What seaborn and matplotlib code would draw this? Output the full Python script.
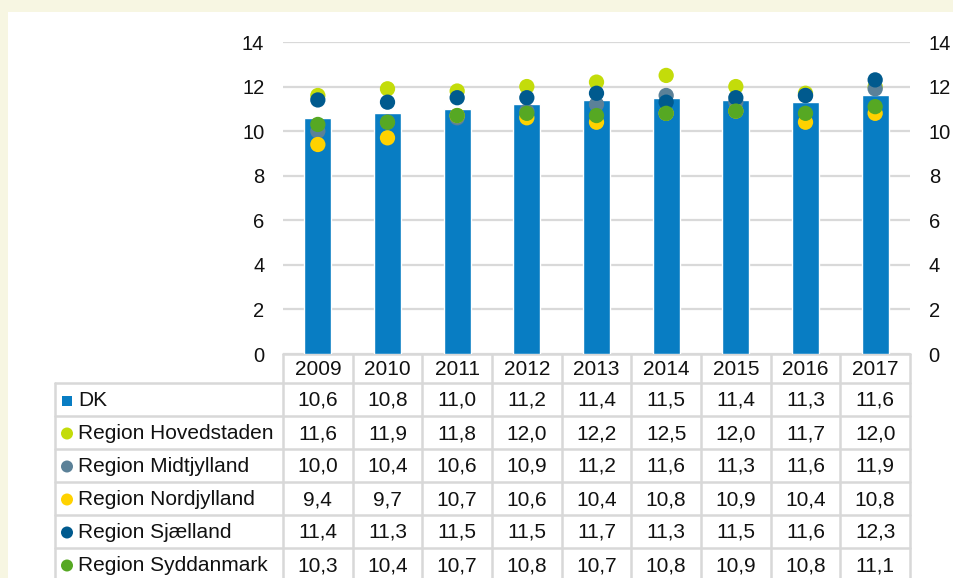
import numpy as np
import pandas as pd
import matplotlib
matplotlib.use("Agg")
import matplotlib.pyplot as plt
import seaborn as sns
from matplotlib.patches import Rectangle, Circle

years = ["2009", "2010", "2011", "2012", "2013", "2014", "2015", "2016", "2017"]
dk = [10.6, 10.8, 11.0, 11.2, 11.4, 11.5, 11.4, 11.3, 11.6]
hovedstaden = [11.6, 11.9, 11.8, 12.0, 12.2, 12.5, 12.0, 11.7, 12.0]
midtjylland = [10.0, 10.4, 10.6, 10.9, 11.2, 11.6, 11.3, 11.6, 11.9]
nordjylland = [9.4, 9.7, 10.7, 10.6, 10.4, 10.8, 10.9, 10.4, 10.8]
sjaelland = [11.4, 11.3, 11.5, 11.5, 11.7, 11.3, 11.5, 11.6, 12.3]
syddanmark = [10.3, 10.4, 10.7, 10.8, 10.7, 10.8, 10.9, 10.8, 11.1]

regions = ["Region Hovedstaden", "Region Midtjylland", "Region Nordjylland",
           "Region Sjælland", "Region Syddanmark"]
region_values = [hovedstaden, midtjylland, nordjylland, sjaelland, syddanmark]
region_colors = ["#c3dc0a", "#5b8198", "#ffd200", "#005a8e", "#56a823"]
dk_color = "#087dc3"
grid_color = "#d9d9d9"

df_dk = pd.DataFrame({"Year": years, "Value": dk})
df_reg = pd.concat(
    [pd.DataFrame({"Year": years, "Value": v, "Region": r})
     for r, v in zip(regions, region_values)],
    ignore_index=True,
)

sns.set_theme(style="white")
plt.rcParams["font.family"] = ["Liberation Sans", "DejaVu Sans"]

W, H = 954, 578
fig = plt.figure(figsize=(W / 100, H / 100), dpi=100, facecolor="#f7f6e2")

# background / table layer in pixel coordinates
bg = fig.add_axes([0, 0, 1, 1], zorder=0)
bg.set_xlim(0, W)
bg.set_ylim(H, 0)
bg.axis("off")
bg.add_patch(Rectangle((8, 12), W, H, facecolor="white", edgecolor="none"))

x0, x1 = 283, 910
y_top, y_zero = 42, 354
ax = fig.add_axes([x0 / W, (H - y_zero) / H, (x1 - x0) / W, (y_zero - y_top) / H],
                  zorder=2)
ax.patch.set_alpha(0)

sns.barplot(data=df_dk, x="Year", y="Value", color=dk_color, width=0.39,
            saturation=1, ax=ax, zorder=2)
sns.stripplot(data=df_reg, x="Year", y="Value", hue="Region", hue_order=regions,
              palette=region_colors, jitter=False, dodge=False, size=11,
              linewidth=0, ax=ax, zorder=3, legend=False)

ax.set_xlim(-0.5, len(years) - 0.5)
ax.set_ylim(0, 14)
ax.set_yticks(range(0, 15, 2))
ax.yaxis.grid(True, color=grid_color, linewidth=1.6)
ax.set_axisbelow(True)
ax.set_xticks([])
ax.set_xlabel("")
ax.set_ylabel("")
for s in ax.spines.values():
    s.set_visible(False)
ax.tick_params(axis="y", length=0, pad=13.5, labelsize=14.5, labelcolor="#111111")

ax2 = ax.twinx()
ax2.set_ylim(0, 14)
ax2.set_yticks(range(0, 15, 2))
for s in ax2.spines.values():
    s.set_visible(False)
ax2.tick_params(axis="y", length=0, pad=13.5, labelsize=14.5, labelcolor="#111111")

# data table
col_w = (x1 - x0) / len(years)
row_edges = [354, 383, 416, 449, 482, 515, 548, 581]
tcol = "#d8d8d8"
lw = 1.8
fs = 15
label_x0 = 55

# header row
bg.plot([x0, x1], [row_edges[0], row_edges[0]], color=tcol, lw=lw)
for i, yr in enumerate(years):
    cx = x0 + col_w * (i + 0.5)
    bg.text(cx, (row_edges[0] + row_edges[1]) / 2 + 1, yr, ha="center",
            va="center", fontsize=fs, color="#111111")
# horizontal lines
for y in row_edges[1:-1]:
    bg.plot([label_x0, x1], [y, y], color=tcol, lw=lw)
# vertical lines
bg.plot([label_x0, label_x0], [row_edges[1], H], color=tcol, lw=lw)
for i in range(len(years) + 1):
    x = x0 + col_w * i
    bg.plot([x, x], [row_edges[0], H], color=tcol, lw=lw)

names = ["DK"] + regions
values = [dk] + region_values
colors = [dk_color] + region_colors
for r, (name, vals, c) in enumerate(zip(names, values, colors)):
    cy = (row_edges[r + 1] + row_edges[r + 2]) / 2 + 1
    if r == 0:
        bg.add_patch(Rectangle((62, cy - 5), 10, 10, facecolor=c, edgecolor="none"))
    else:
        bg.add_patch(Circle((67, cy), 6, facecolor=c, edgecolor="none"))
    bg.text(78, cy, name, ha="left", va="center", fontsize=fs, color="#111111")
    for i, v in enumerate(vals):
        cx = x0 + col_w * (i + 0.5)
        bg.text(cx, cy, f"{v:.1f}".replace(".", ","), ha="center", va="center",
                fontsize=fs, color="#111111")

fig.savefig("out.png", dpi=100, facecolor=fig.get_facecolor())
